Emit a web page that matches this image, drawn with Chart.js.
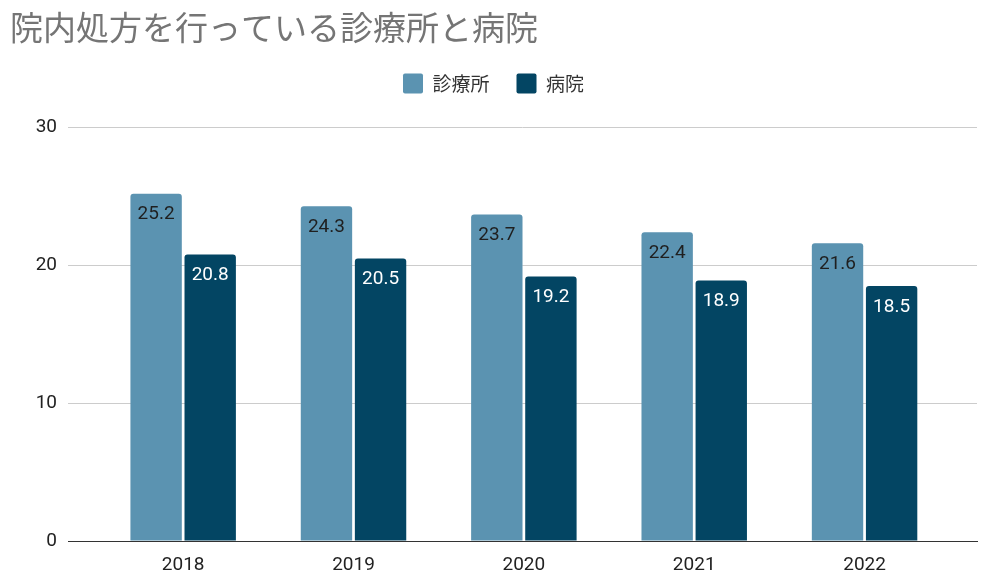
<!DOCTYPE html>
<html lang="ja">
<head>
    <meta charset="UTF-8" />
    <title>院内処方を行っている診療所と病院</title>
    <script src="https://cdn.jsdelivr.net/npm/chart.js"></script>
    <style>
        html, body {
            margin: 0;
            padding: 0;
            background: #fff;
        }
        #wrap {
            position: relative;
            width: 1000px;
            height: 580px;
        }
    </style>
</head>
<body>
    <div id="wrap"><canvas id="chart"></canvas></div>

    <script>
        const years = [2018, 2019, 2020, 2021, 2022];
        const clinics = [25.2, 24.3, 23.7, 22.4, 21.6];
        const hospitals = [20.8, 20.5, 19.2, 18.9, 18.5];
        const yTicks = [0, 10, 20, 30];

        const clinicColor = '#5b93b1';
        const hospitalColor = '#034563';

        // value labels just inside the top of each bar
        const barLabels = {
            id: 'barLabels',
            afterDatasetsDraw(chart) {
                const ctx = chart.ctx;
                ctx.save();
                ctx.font = '19px Roboto';
                ctx.textAlign = 'center';
                ctx.textBaseline = 'middle';
                chart.data.datasets.forEach((ds, i) => {
                    ctx.fillStyle = i === 0 ? '#1f1f1f' : '#ffffff';
                    chart.getDatasetMeta(i).data.forEach((bar, j) => {
                        ctx.fillText(ds.data[j].y.toFixed(1), bar.x, bar.y + 21);
                    });
                });
                ctx.restore();
            }
        };

        // extra room below the legend
        const legendGap = {
            id: 'legendGap',
            beforeInit(chart) {
                const fit = chart.legend.fit;
                chart.legend.fit = function () {
                    fit.call(this);
                    this.height += 24;
                };
            }
        };

        new Chart(document.getElementById('chart'), {
            type: 'bar',
            data: {
                datasets: [
                    {
                        label: '診療所',
                        data: years.map((y, i) => ({ x: y, y: clinics[i] })),
                        backgroundColor: clinicColor,
                        borderRadius: { topLeft: 3, topRight: 3 },
                        borderSkipped: 'bottom'
                    },
                    {
                        label: '病院',
                        data: years.map((y, i) => ({ x: y, y: hospitals[i] })),
                        backgroundColor: hospitalColor,
                        borderRadius: { topLeft: 3, topRight: 3 },
                        borderSkipped: 'bottom'
                    }
                ]
            },
            options: {
                responsive: true,
                maintainAspectRatio: false,
                animation: false,
                categoryPercentage: 0.635,
                barPercentage: 0.95,
                layout: { padding: { left: 10, right: 23, top: 4, bottom: 0 } },
                plugins: {
                    title: {
                        display: true,
                        text: '院内処方を行っている診療所と病院',
                        align: 'start',
                        color: '#757575',
                        font: { family: '"Noto Sans CJK JP"', size: 33, weight: 'normal' },
                        padding: { top: 4, bottom: -1 }
                    },
                    legend: {
                        labels: {
                            color: '#333',
                            font: { family: '"Noto Sans CJK JP"', size: 19 },
                            boxWidth: 20,
                            boxHeight: 20,
                            useBorderRadius: true,
                            borderRadius: 2,
                            padding: 27
                        }
                    },
                    tooltip: { enabled: false }
                },
                scales: {
                    x: {
                        type: 'linear',
                        offset: false,
                        min: 2017.324,
                        max: 2022.66,
                        afterFit: axis => { axis.height = 39; },
                        afterBuildTicks: axis => { axis.ticks = years.map(v => ({ value: v })); },
                        ticks: {
                            callback: v => String(v),
                            color: '#222',
                            font: { family: 'Roboto', size: 19 },
                            padding: 13
                        },
                        grid: { display: false, drawTicks: false },
                        border: { color: '#333', width: 1 }
                    },
                    y: {
                        min: 0,
                        max: 30,
                        afterFit: axis => { axis.width = 58; },
                        afterBuildTicks: axis => { axis.ticks = yTicks.map(v => ({ value: v })); },
                        ticks: {
                            color: '#222',
                            font: { family: 'Roboto', size: 19 },
                            padding: 11
                        },
                        grid: {
                            color: ctx => ctx.tick.value === 0 ? '#333' : '#cccccc',
                            drawTicks: false
                        },
                        border: { display: false }
                    }
                }
            },
            plugins: [barLabels, legendGap]
        });
    </script>
</body>
</html>
